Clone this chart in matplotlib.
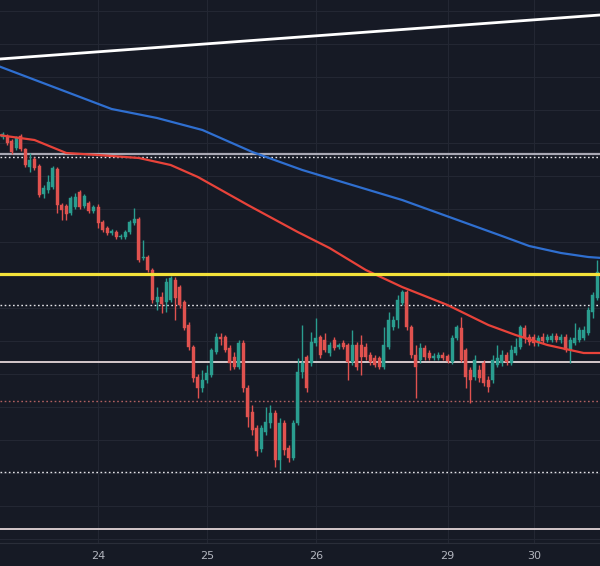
import matplotlib
matplotlib.use("Agg")
import matplotlib.pyplot as plt
import numpy as np

# ---- data (price units) ----
opens = [863,864,859,852,864,851,833,841,834,806,810,813,831,795,794,787,793,808,794,797,
         789,793,778,772,767,768,763,763,768,777,781,742,743,730,698,703,698,700,720,713,
         698,675,653,623,612,620,625,648,663,663,652,643,633,657,612,588,572,551,568,577,
         587,540,577,552,542,577,628,643,637,657,663,660,647,660,653,657,655,638,655,655,
         653,645,642,642,633,653,673,680,697,708,673,645,640,652,647,642,642,645,644,638,
         662,672,650,630,623,630,637,620,620,635,637,645,637,647,653,672,663,663,657,663,
         660,660,664,660,663,650,657,660,662,667,688,702]
highs = [868,866,861,864,866,852,847,843,836,815,825,834,833,797,796,804,807,810,806,799,
         795,796,780,774,771,770,766,770,780,792,783,760,745,732,713,708,722,724,723,715,
         700,678,655,626,630,635,652,667,667,665,655,648,660,660,615,595,575,575,593,595,
         590,582,580,555,580,642,675,645,668,682,665,667,658,663,657,660,657,670,658,665,
         657,648,645,644,673,688,684,705,710,710,675,655,657,655,650,647,648,648,646,665,
         675,683,652,633,645,635,640,624,645,655,650,648,655,662,675,675,666,666,665,667,
         666,667,667,666,666,663,677,673,674,693,708,740]
lows = [861,855,846,850,849,833,828,830,803,802,807,811,787,780,780,785,791,791,792,787,
        787,772,768,765,765,761,761,761,766,775,738,740,728,697,690,687,688,698,680,692,
        670,650,618,602,608,617,623,646,655,648,630,631,631,608,573,565,544,548,565,572,
        533,530,545,538,540,575,622,608,634,654,642,648,644,650,651,651,620,635,630,625,
        640,635,633,631,631,651,670,672,695,670,642,602,637,640,640,640,640,640,637,636,
        660,638,612,597,620,618,614,608,617,633,634,635,635,645,651,657,655,654,654,657,
        658,658,658,657,648,637,655,658,660,665,682,700]
closes = [866,857,848,862,851,835,840,832,805,812,818,832,795,790,786,802,803,793,804,789,
          793,777,770,767,769,763,764,768,778,781,740,743,730,700,703,696,718,722,702,695,
          672,653,622,612,620,627,650,663,661,650,637,633,657,612,583,570,549,572,578,587,
          540,577,550,542,577,628,637,612,658,662,645,650,655,652,655,653,638,655,633,643,
          643,638,635,633,655,680,680,700,708,673,645,633,652,643,642,644,645,642,639,662,
          673,640,623,620,640,622,617,613,640,642,645,638,650,653,673,662,658,657,662,659,
          663,664,660,663,650,660,662,670,670,690,705,728]

day_labels = ["24", "25", "26", "29", "30"]
day_index = [21, 45, 69, 98, 117]

ma_slow_x = [-1, 24, 34, 44, 55, 66, 77, 88, 99, 110, 116, 123, 129, 132]
ma_slow_y = [934, 891, 882, 870, 848, 830, 815, 800, 782, 764, 754, 747, 743, 742]

ma_fast_x = [-1, 7, 14, 21, 30, 37, 43, 54, 65, 72, 80, 88, 98, 107, 113, 120, 125, 128, 132]
ma_fast_y = [865, 860, 847, 845, 842, 835, 823, 795, 768, 752, 730, 713, 695, 675, 665, 655, 650, 647, 647]

trend_x = [-0.6, 131.6]
trend_y = [941, 985]

level_yellow = 726
level_grey = 846
levels_dotted_white = [843, 695, 528]
level_dotted_red = 599
levels_solid_light = [638, 471]

grid_levels = [989, 956, 923, 890, 857, 824, 791, 758, 725, 692, 659, 626, 593, 560, 527, 494, 461]

# ---- style ----
BG = "#161a25"
GRID = "#232733"
UP = "#2a9d8f"
DOWN = "#e0524f"

fig = plt.figure(figsize=(6.0, 5.66), dpi=100, facecolor=BG)
ax = fig.add_axes([0, 23 / 566, 1, 543 / 566])
ax.set_facecolor(BG)

n = len(opens)
xs = np.arange(n)
for i in range(n):
    o, h, l, c = opens[i], highs[i], lows[i], closes[i]
    col = UP if c >= o else DOWN
    ax.vlines(xs[i], l, h, color=col, linewidth=1.0, zorder=3)
    lo, hi = min(o, c), max(o, c)
    if hi - lo < 1:
        hi = lo + 1
    ax.bar(xs[i], hi - lo, bottom=lo, width=0.66, color=col, edgecolor=col,
           linewidth=0.3, zorder=4)

ax.plot(ma_slow_x, ma_slow_y, color="#2f6fd0", linewidth=1.6, zorder=5)
ax.plot(ma_fast_x, ma_fast_y, color="#e8433a", linewidth=1.6, zorder=5)
ax.plot(trend_x, trend_y, color="#ffffff", linewidth=2.0, zorder=6)

ax.axhline(level_grey, color="#a8a8b4", linewidth=1.6, zorder=2)
for lv in levels_dotted_white:
    ax.axhline(lv, color="#e6e6ea", linewidth=1.0, linestyle=(0, (1.2, 1.8)), zorder=2)
ax.axhline(level_dotted_red, color="#b06060", linewidth=1.0, linestyle=(0, (1.2, 1.8)), zorder=2)
for lv in levels_solid_light:
    ax.axhline(lv, color="#e4d6d8", linewidth=1.3, zorder=2)
ax.axhline(level_yellow, color="#f4e23a", linewidth=2.3, zorder=7)

ax.set_xlim(-0.6, 131.6)
ax.set_ylim(457, 1000)
ax.set_yticks(grid_levels)
ax.set_xticks(day_index)
ax.set_xticklabels(day_labels, color="#b2b5be", fontsize=8)
ax.tick_params(axis="x", length=0, pad=5.5)
ax.tick_params(axis="y", length=0, labelleft=False)
ax.grid(True, color=GRID, linewidth=0.8, zorder=0)
for s in ax.spines.values():
    s.set_visible(False)
ax.spines["bottom"].set_visible(True)
ax.spines["bottom"].set_color("#2a2e39")
ax.spines["bottom"].set_linewidth(0.8)

fig.savefig("out.png", dpi=100, facecolor=BG)
